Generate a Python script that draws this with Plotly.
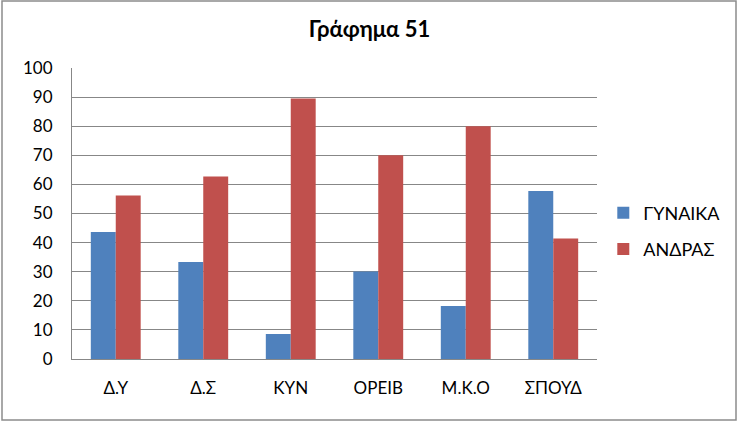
import plotly.graph_objects as go

# data
categories = ['Δ.Υ', 'Δ.Σ', 'ΚΥΝ', 'ΟΡΕΙΒ', 'Μ.Κ.Ο', 'ΣΠΟΥΔ']
women = [43.6, 33.3, 8.6, 30.1, 18.2, 57.7]
men = [56.2, 62.7, 89.5, 70.0, 80.0, 41.4]
y_ticks = [0, 10, 20, 30, 40, 50, 60, 70, 80, 90, 100]

colors = {
    'blue': '#4F81BD',
    'red': '#C0504D',
    'grid': '#878787',
    'text': '#000000',
}

fig = go.Figure()

fig.add_trace(go.Bar(
    x=categories, y=women, name='ΓΥΝΑΙΚΑ',
    marker=dict(color=colors['blue'], line=dict(width=0)),
    legendgroup='g1'
))
fig.add_trace(go.Bar(
    x=categories, y=men, name='ΑΝΔΡΑΣ',
    marker=dict(color=colors['red'], line=dict(width=0)),
    legendgroup='g2'
))

# outer frame of the chart
fig.add_shape(
    type='rect', xref='paper', yref='paper',
    x0=(2 - 72) / 525, x1=(736 - 72) / 525,
    y0=(359 - 420) / 291, y1=(359 - 1) / 291,
    line=dict(color='#8C8C8C', width=1.5),
    fillcolor='rgba(0,0,0,0)', layer='below'
)

fig.update_layout(
    width=739,
    height=423,
    margin=dict(l=72, r=142, t=68, b=64),
    paper_bgcolor='white',
    plot_bgcolor='white',
    font=dict(family='Lato, Open Sans, sans-serif', size=17, color=colors['text']),
    title=dict(
        text='<b>Γράφημα 51</b>',
        x=0.5, xanchor='center',
        y=0.93, yanchor='middle',
        font=dict(size=22)
    ),
    barmode='group',
    bargap=0.43,
    bargroupgap=0,
    legend=dict(
        x=1.012, xanchor='left',
        y=0.44, yanchor='middle',
        font=dict(size=18),
        tracegroupgap=10,
        itemwidth=30,
        bgcolor='rgba(0,0,0,0)'
    ),
)

fig.update_xaxes(
    showline=True, linecolor=colors['grid'], linewidth=1,
    ticks='', showgrid=False, ticklabelstandoff=14
)
fig.update_yaxes(
    range=[0, 100], tickvals=y_ticks,
    showgrid=True, gridcolor=colors['grid'], gridwidth=1,
    showline=True, linecolor=colors['grid'], linewidth=1,
    ticks='', ticklabelstandoff=15,
    zeroline=False
)

# drop the default page margin so the chart sits at the window corner
fig.write_html(
    "out.html",
    config={'displayModeBar': False},
    post_script="document.body.style.margin='0';"
)
